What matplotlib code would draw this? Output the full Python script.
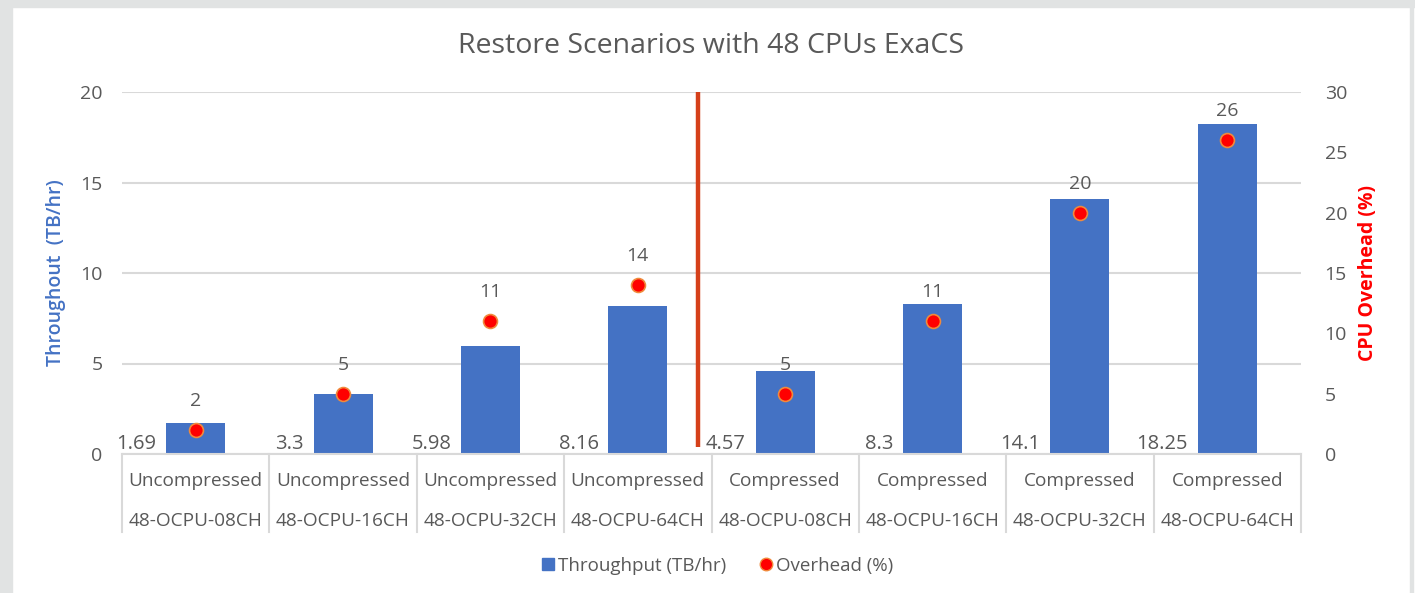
import matplotlib
matplotlib.use("Agg")
import matplotlib.pyplot as plt
from matplotlib.patches import Rectangle
from matplotlib.lines import Line2D
import matplotlib.transforms as mtrans

plt.rcParams['font.family'] = ['Open Sans', 'DejaVu Sans']

level1 = ["Uncompressed"] * 4 + ["Compressed"] * 4
level2 = ["48-OCPU-08CH", "48-OCPU-16CH", "48-OCPU-32CH", "48-OCPU-64CH"] * 2
throughput = [1.69, 3.3, 5.98, 8.16, 4.57, 8.3, 14.1, 18.25]
overhead = [2, 5, 11, 14, 5, 11, 20, 26]
throughput_labels = ["1.69", "3.3", "5.98", "8.16", "4.57", "8.3", "14.1", "18.25"]

W, H = 1415, 593
fig = plt.figure(figsize=(W / 100, H / 100), dpi=100, facecolor='white')

# grey frame around the white panel
fig.patches.append(Rectangle((0, 0), 12 / W, 1, transform=fig.transFigure, color='#E1E3E3', zorder=0))
fig.patches.append(Rectangle((0, 1 - 7 / H), 1, 7 / H, transform=fig.transFigure, color='#E1E3E3', zorder=0))
fig.patches.append(Rectangle((1410 / W, 0), 3 / W, 1, transform=fig.transFigure, color='#E1E3E3', zorder=0))

txt = '#595959'
grid = '#D9D9D9'
blue = '#4472C4'

ax = fig.add_axes([122 / W, 1 - 454 / H, (1301 - 122) / W, (454 - 92) / H])
ax2 = ax.twinx()

x = list(range(len(throughput)))
ax.bar(x, throughput, width=0.40, color=blue, zorder=2)
ax.set_xlim(-0.5, len(x) - 0.5)
ax.set_ylim(0, 20)
ax.set_yticks([0, 5, 10, 15, 20])
ax.grid(axis='y', color=grid, lw=1.5, zorder=0)
ax.set_axisbelow(True)
for s in ['top', 'right', 'left']:
    ax.spines[s].set_visible(False)
ax.spines['bottom'].set_color(grid)
ax.spines['bottom'].set_linewidth(1.5)
ax.tick_params(axis='y', length=0, pad=14, labelsize=14, labelcolor=txt)
ax.set_xticks([])
ax.set_ylabel("Throughout  (TB/hr)", color=blue, fontsize=14, fontweight='semibold', labelpad=10)

ax2.set_ylim(0, 30)
ax2.set_yticks([0, 5, 10, 15, 20, 25, 30])
for s in ax2.spines.values():
    s.set_visible(False)
ax2.tick_params(axis='y', length=0, pad=17, labelsize=14, labelcolor=txt)
ax2.set_ylabel("CPU Overhead (%)", color='#FF0000', fontsize=14, fontweight='bold', labelpad=8)
ax2.scatter(x, overhead, s=100, facecolor='#FF0000', edgecolor='#F08A3C', linewidth=1.2, zorder=5)

for xi, v in zip(x, overhead):
    ax2.annotate(str(v), (xi, v), xytext=(0, 21), textcoords='offset points',
                 ha='center', va='center', fontsize=14, color=txt)
for xi, lab in zip(x, throughput_labels):
    ax.annotate(lab, (xi - 0.2, 0), xytext=(-7, 0), textcoords='offset points',
                ha='right', va='bottom', fontsize=14.5, color=txt, zorder=4)

# separator line
ax.plot([3.41, 3.41], [0.39, 20], color='#D5401A', lw=3.2, zorder=6, solid_capstyle='butt')

# two-level category boxes
tr = mtrans.blended_transform_factory(ax.transData, ax.transAxes)
box_bottom = -(532 - 454) / (454 - 92)
for b in [i - 0.5 for i in range(len(x) + 1)]:
    ax.add_line(Line2D([b, b], [0, box_bottom], transform=tr, color=grid, lw=1.5, clip_on=False))
for xi in x:
    ax.text(xi, -(481 - 454) / 362, level1[xi], transform=tr, ha='center', va='center',
            fontsize=13.7, color=txt)
    ax.text(xi, -(521 - 454) / 362, level2[xi], transform=tr, ha='center', va='center',
            fontsize=13.7, color=txt)

fig.text(711 / W, 1 - 46 / H, "Restore Scenarios with 48 CPUs ExaCS", ha='center', va='center',
         fontsize=20.5, color=txt)

handles = [Line2D([], [], marker='s', ls='none', markersize=8.5, color=blue),
           Line2D([], [], marker='o', ls='none', markersize=9, markerfacecolor='#FF0000',
                  markeredgecolor='#F08A3C')]
leg = fig.legend(handles, ["Throughput (TB/hr)", "Overhead (%)"], loc='center',
                 bbox_to_anchor=(716 / W, 1 - 566 / H), ncol=2, frameon=False,
                 fontsize=13.5, handletextpad=0.05, columnspacing=1.6, handlelength=1.0)
for t in leg.get_texts():
    t.set_color(txt)

fig.savefig("out.png", dpi=100, facecolor=fig.get_facecolor())
